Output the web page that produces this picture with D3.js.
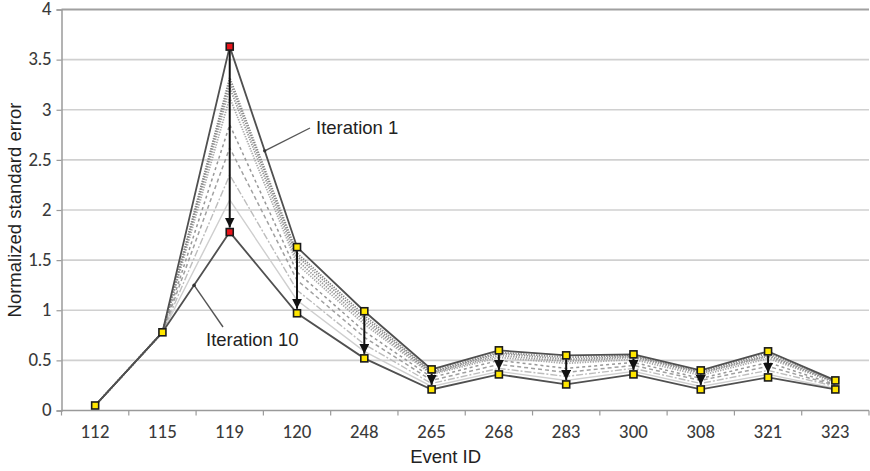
<!DOCTYPE html>
<html>
<head>
<meta charset="utf-8">
<script src="https://cdn.jsdelivr.net/npm/d3@7"></script>
<style>
  html, body { margin: 0; padding: 0; background: #fff; }
  svg { display: block; }
</style>
</head>
<body>
<svg id="chart" width="870" height="471"></svg>
<script>
// Event IDs along the x axis
const events = ["112", "115", "119", "120", "248", "265", "268", "283", "300", "308", "321", "323"];
const yTicks = [0, 0.5, 1, 1.5, 2, 2.5, 3, 3.5, 4];
const yTickLabels = ["0", "0.5", "1", "1.5", "2", "2.5", "3", "3.5", "4"];

// Normalized standard error per iteration
const iter1  = [0.05, 0.78, 3.63, 1.63, 0.99, 0.41, 0.60, 0.55, 0.56, 0.40, 0.59, 0.30];
const iter2  = [0.05, 0.78, 3.32, 1.57, 0.95, 0.39, 0.58, 0.53, 0.55, 0.39, 0.57, 0.29];
const iter3  = [0.05, 0.78, 3.28, 1.54, 0.92, 0.38, 0.57, 0.51, 0.54, 0.38, 0.55, 0.29];
const iter4  = [0.05, 0.78, 3.22, 1.50, 0.89, 0.37, 0.55, 0.49, 0.53, 0.37, 0.54, 0.28];
const iter5  = [0.05, 0.78, 3.12, 1.46, 0.86, 0.36, 0.53, 0.47, 0.51, 0.35, 0.52, 0.28];
const iter6  = [0.05, 0.78, 2.85, 1.38, 0.79, 0.33, 0.50, 0.42, 0.48, 0.32, 0.48, 0.26];
const iter7  = [0.05, 0.78, 2.62, 1.30, 0.73, 0.30, 0.46, 0.38, 0.45, 0.30, 0.44, 0.25];
const iter8  = [0.05, 0.78, 2.35, 1.20, 0.66, 0.27, 0.42, 0.34, 0.42, 0.27, 0.40, 0.24];
const iter9  = [0.05, 0.78, 2.10, 1.10, 0.59, 0.24, 0.39, 0.30, 0.39, 0.24, 0.36, 0.22];
const iter10 = [0.05, 0.78, 1.78, 0.97, 0.52, 0.21, 0.36, 0.26, 0.36, 0.21, 0.33, 0.21];

// Events whose values change markedly get a red marker
const highlighted = ["119"];

const svg = d3.select("#chart");
const plotLeft = 61.5, plotRight = 869, plotTop = 9.5, plotBottom = 410.5;

const x = d3.scaleBand().domain(events).range([plotLeft, plotRight]).padding(0);
const cx = d => x(d) + x.bandwidth() / 2;
const y = d3.scaleLinear().domain([0, 4]).range([plotBottom, plotTop]);

// horizontal gridlines
svg.append("g").selectAll("line").data(yTicks.filter(v => v > 0)).join("line")
  .attr("x1", plotLeft).attr("x2", plotRight)
  .attr("y1", d => y(d)).attr("y2", d => y(d))
  .attr("stroke", d => d === 4 ? "#a0a0a0" : "#d0d0d0")
  .attr("stroke-width", d => d === 4 ? 2 : 1.7);

// y axis
const yAxis = d3.axisLeft(y).tickValues(yTicks).tickSize(5).tickPadding(5)
  .tickFormat((d, i) => yTickLabels[i]);
const gy = svg.append("g").attr("transform", `translate(${plotLeft},0)`).call(yAxis);
gy.select(".domain").attr("stroke", "#9a9a9a").attr("stroke-width", 1.5);
gy.selectAll(".tick line").attr("stroke", "#9a9a9a").attr("stroke-width", 1.2);
gy.selectAll(".tick text").attr("font-family", "Lato, 'Open Sans', sans-serif")
  .attr("font-size", 16.5).attr("font-weight", 500).attr("fill", "#3a3a3a");

// x axis with ticks between categories
const gx = svg.append("g").attr("transform", `translate(0,${plotBottom})`);
gx.append("line").attr("x1", plotLeft).attr("x2", plotRight).attr("y1", 0).attr("y2", 0)
  .attr("stroke", "#9a9a9a").attr("stroke-width", 1.5);
gx.selectAll("line.tk").data(events.concat(["end"])).join("line").attr("class", "tk")
  .attr("x1", d => d === "end" ? plotRight : x(d)).attr("x2", d => d === "end" ? plotRight : x(d))
  .attr("y1", 0).attr("y2", 5).attr("stroke", "#9a9a9a").attr("stroke-width", 1.2);
gx.selectAll("text").data(events).join("text")
  .attr("x", d => cx(d)).attr("y", 27).attr("text-anchor", "middle")
  .attr("font-family", "Lato, 'Open Sans', sans-serif").attr("font-size", 16.5)
  .attr("font-weight", 500).attr("fill", "#3a3a3a")
  .text(d => d);

// axis titles
svg.append("text").attr("x", cx("265") + 14).attr("y", 463).attr("text-anchor", "middle")
  .attr("font-family", "'Liberation Sans', Arial, sans-serif").attr("font-size", 18.5).attr("fill", "#222")
  .text("Event ID");
svg.append("text").attr("transform", "translate(21,210) rotate(-90)").attr("text-anchor", "middle")
  .attr("font-family", "'Liberation Sans', Arial, sans-serif").attr("font-size", 18.5).attr("fill", "#222")
  .text("Normalized standard error");

// intermediate iterations
const middle = [
  { v: iter9, color: "#cfcfcf", width: 1.4, dash: null },
  { v: iter8, color: "#bdbdbd", width: 1.4, dash: "7,2,2,2" },
  { v: iter7, color: "#a0a0a0", width: 1.5, dash: "4,3" },
  { v: iter6, color: "#989898", width: 1.5, dash: "3,3" },
  { v: iter5, color: "#a8a8a8", width: 1.8, dash: "1.3,1.3" },
  { v: iter4, color: "#989898", width: 1.8, dash: "1.3,1.3" },
  { v: iter3, color: "#909090", width: 1.8, dash: "1.3,1.3" },
  { v: iter2, color: "#888888", width: 1.8, dash: "1.3,1.3" }
];
const line = d3.line().x((d, i) => cx(events[i])).y(d => y(d));
svg.append("g").selectAll("path").data(middle).join("path")
  .attr("d", d => line(d.v)).attr("fill", "none")
  .attr("stroke", d => d.color).attr("stroke-width", d => d.width)
  .attr("stroke-dasharray", d => d.dash);

// first and last iteration
svg.append("g").selectAll("path").data([iter10, iter1]).join("path")
  .attr("d", d => line(d)).attr("fill", "none")
  .attr("stroke", "#505050").attr("stroke-width", 1.8);

// arrows showing the drop from iteration 1 to iteration 10
const defs = svg.append("defs");
defs.append("marker").attr("id", "head").attr("viewBox", "0 0 10 10")
  .attr("refX", 10).attr("refY", 5).attr("markerWidth", 10).attr("markerHeight", 10)
  .attr("markerUnits", "userSpaceOnUse").attr("orient", "auto")
  .append("path").attr("d", "M0,0 L10,5 L0,10 Z").attr("fill", "#111");
const drops = events.map((e, i) => ({ e, a: iter1[i], b: iter10[i] })).filter(d => d.a - d.b > 0.1);
svg.append("g").selectAll("line").data(drops).join("line")
  .attr("x1", d => cx(d.e)).attr("x2", d => cx(d.e))
  .attr("y1", d => y(d.a) + 4).attr("y2", d => y(d.b) - 4.5)
  .attr("stroke", "#111").attr("stroke-width", 2).attr("marker-end", "url(#head)");

// square markers on iterations 1 and 10
const pts = [];
events.forEach((e, i) => {
  pts.push({ e, v: iter1[i] });
  if (Math.abs(iter1[i] - iter10[i]) > 0.001) pts.push({ e, v: iter10[i] });
});
svg.append("g").selectAll("rect").data(pts).join("rect")
  .attr("x", d => cx(d.e) - 3.5).attr("y", d => y(d.v) - 3.5)
  .attr("width", 7).attr("height", 7)
  .attr("fill", d => highlighted.includes(d.e) ? "#e8151b" : "#ffe600")
  .attr("stroke", "#1a1a1a").attr("stroke-width", 1.6);

// callouts
function callout(series, i0, t, tx, ty, label, textX, textY) {
  const xa = cx(events[i0]), xb = cx(events[i0 + 1]);
  const ya = y(series[i0]), yb = y(series[i0 + 1]);
  const px = xa + (xb - xa) * t, py = ya + (yb - ya) * t;
  svg.append("line").attr("x1", tx).attr("y1", ty).attr("x2", px).attr("y2", py)
    .attr("stroke", "#555").attr("stroke-width", 1.4);
  svg.append("circle").attr("cx", px).attr("cy", py).attr("r", 1.7).attr("fill", "#333");
  svg.append("text").attr("x", textX).attr("y", textY)
    .attr("font-family", "'Liberation Sans', Arial, sans-serif").attr("font-size", 18.5).attr("fill", "#222")
    .text(label);
}
callout(iter1, 2, 0.52, 310, 128, "Iteration 1", 316, 134);
callout(iter10, 1, 0.47, 223, 327, "Iteration 10", 206, 346);
</script>
</body>
</html>
